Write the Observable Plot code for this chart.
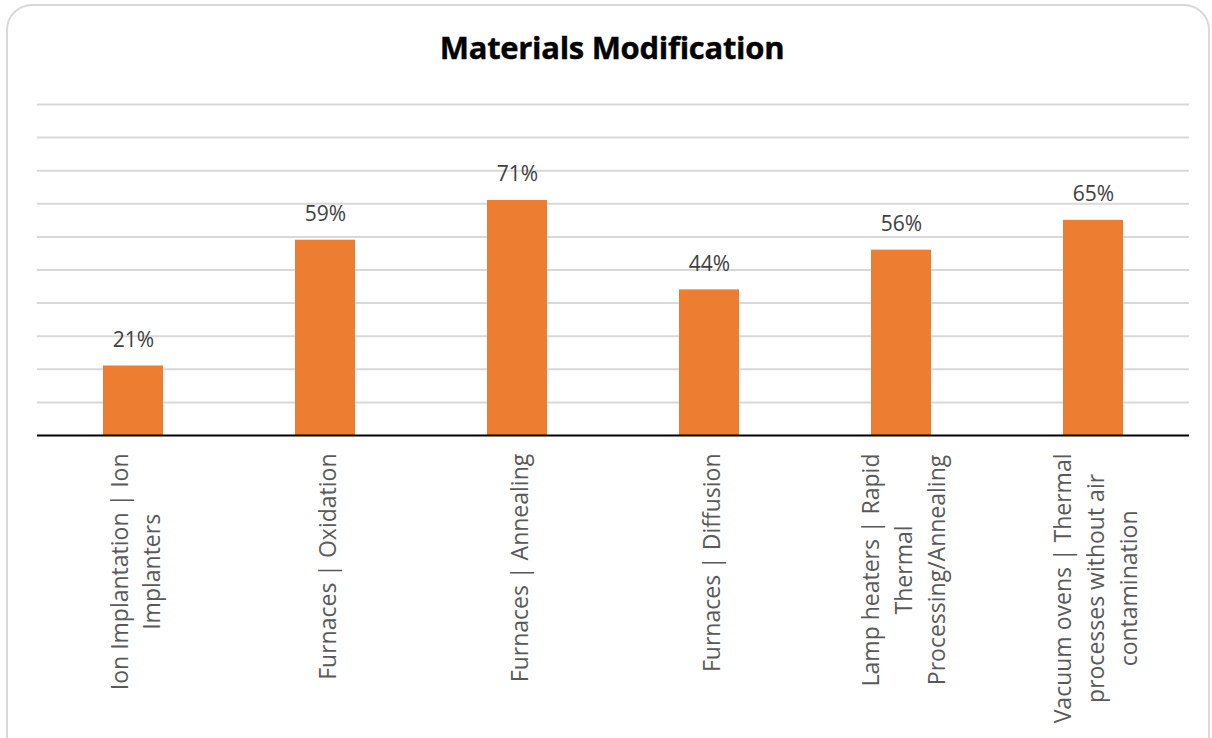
<!DOCTYPE html>
<html><head><meta charset="utf-8">
<script src="https://cdn.jsdelivr.net/npm/d3@7"></script>
<script src="https://cdn.jsdelivr.net/npm/@observablehq/plot@0.6"></script>
<style>
body{margin:0;background:#fff;width:1212px;height:738px;overflow:hidden;position:relative;font-family:"Open Sans",sans-serif;}
#frame{position:absolute;left:6px;top:4px;width:1204px;height:760px;border:2px solid #d9d9d9;border-radius:26px;box-sizing:border-box;}
#title{position:absolute;left:0;width:1224px;top:26px;text-align:center;font-size:31px;line-height:42px;font-weight:700;color:#000;letter-spacing:-0.3px;-webkit-text-stroke:0.4px #000;}
#chart{position:absolute;left:0;top:0;}
</style></head><body>
<div id="frame"></div>
<div id="title">Materials Modification</div>
<div id="chart"></div>
<script>
const categories = ["Ion Implantation | Ion Implanters","Furnaces | Oxidation","Furnaces | Annealing","Furnaces | Diffusion","Lamp heaters | Rapid Thermal Processing/Annealing","Vacuum ovens | Thermal processes without air contamination"];
const labelLines = ["Ion Implantation | Ion\nImplanters","Furnaces | Oxidation","Furnaces | Annealing","Furnaces | Diffusion","Lamp heaters | Rapid\nThermal\nProcessing/Annealing","Vacuum ovens | Thermal\nprocesses without air\ncontamination"];
const values = [21,59,71,44,56,65];
const gridTicks = [10,20,30,40,50,60,70,80,90,100];

const data = categories.map((c,i)=>({cat:c,label:labelLines[i],value:values[i]}));

const plot = Plot.plot({
  width:1212, height:738,
  marginLeft:37, marginRight:23, marginTop:104, marginBottom:303,
  style:{fontFamily:"'Open Sans', sans-serif", background:"transparent"},
  x:{domain:categories, paddingInner:0.69, paddingOuter:0.345, axis:null},
  y:{domain:[0,100], axis:null},
  marks:[
    Plot.ruleY(gridTicks,{stroke:"#d9d9d9",strokeWidth:2}),
    Plot.barY(data,{x:"cat",y:"value",fill:"#ed7d31"}),
    Plot.ruleY([0],{stroke:"#000",strokeWidth:2}),
    Plot.text(data,{x:"cat",y:"value",text:d=>d.value+"%",dy:-26,fontSize:21,fill:"#404040"}),
    Plot.text(data,{x:"cat",y:0,text:"label",rotate:-90,textAnchor:"middle",lineHeight:1.42,fontSize:23,fill:"#595959",className:"xlab"})
  ]
});
document.getElementById("chart").appendChild(plot);
const y0 = plot.scale("y").apply(0) + 18;
plot.querySelectorAll(".xlab text").forEach(t=>{
  const w = t.getBBox().width;
  const tr = t.getAttribute("transform");
  const m = tr.match(/translate\(([^,\s]+)[,\s]+([^)]+)\)/);
  const x = m ? parseFloat(m[1]) : 0;
  t.setAttribute("transform", `translate(${x},${y0 + w/2}) rotate(-90)`);
});
</script>
</body></html>
